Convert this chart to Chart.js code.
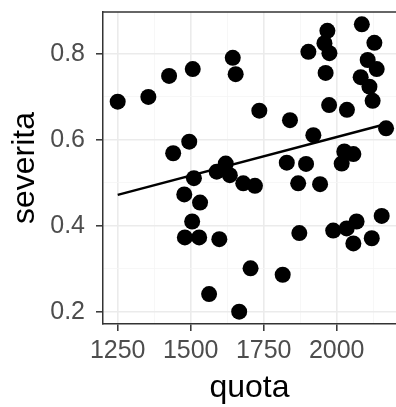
<!DOCTYPE html>
<html>
<head>
<meta charset="utf-8">
<script src="https://cdn.jsdelivr.net/npm/chart.js@4/dist/chart.umd.min.js"></script>
<style>
    html, body { margin: 0; padding: 0; background: #fff; }
    #wrap { width: 396px; height: 407px; }
</style>
</head>
<body>
<div id="wrap"><canvas id="chart"></canvas></div>
<script>
// values
const quota = [
    1250, 1355, 1426, 1507, 1644, 1654, 1735, 1840, 1903, 1968,
    1958, 1975, 1962, 1974, 2035, 2086, 2129, 2106, 2137, 2082,
    2112, 2123, 2169, 1920, 1495, 1440, 2026, 2057, 1829, 1895,
    2017, 1620, 1511, 1589, 1634, 1680, 1720, 1868, 1943, 1478,
    1532, 1505, 1480, 1529, 1598, 1872, 1988, 2034, 2068, 2057,
    2120, 2154, 1705, 1815, 1563, 1666,
];
const severita = [
    0.689, 0.700, 0.749, 0.765, 0.791, 0.753, 0.668, 0.646, 0.805, 0.854,
    0.825, 0.802, 0.756, 0.681, 0.670, 0.869, 0.826, 0.786, 0.765, 0.746,
    0.724, 0.691, 0.627, 0.611, 0.596, 0.569, 0.573, 0.567, 0.547, 0.544,
    0.545, 0.545, 0.511, 0.526, 0.518, 0.499, 0.493, 0.499, 0.497, 0.473,
    0.454, 0.410, 0.373, 0.373, 0.369, 0.383, 0.389, 0.394, 0.410, 0.359,
    0.371, 0.423, 0.301, 0.286, 0.241, 0.200,
];
// fitted line end points
const fitQuota = [1250, 2169];
const fitSeverita = [0.472, 0.637];

const xMajor = [1250, 1500, 1750, 2000];
const xMinor = [1375, 1625, 1875, 2125];
const yMajor = [0.2, 0.4, 0.6, 0.8];
const yMinor = [0.3, 0.5, 0.7];

const FONT = "'Liberation Sans', Arial, sans-serif";

function isMajor(list, v) {
    return list.some(m => Math.abs(m - v) < 1e-6);
}

function tickSetter(major, minor) {
    return scale => {
        scale.ticks = [...major, ...minor].sort((a, b) => a - b).map(v => ({ value: v }));
    };
}

// fixed axis size, no extra label padding pushed into the plot area
function fixSize(prop, size) {
    return s => {
        s[prop] = size;
        s.paddingTop = 0; s.paddingBottom = 0;
        s.paddingLeft = 0; s.paddingRight = 0;
    };
}

function gridOpts(major) {
    return {
        drawOnChartArea: true,
        drawTicks: true,
        tickLength: 7,
        tickWidth: 1.5,
        color: ctx => (ctx.tick && isMajor(major, ctx.tick.value)) ? '#ebebeb' : '#f5f5f5',
        lineWidth: ctx => (ctx.tick && isMajor(major, ctx.tick.value)) ? 1.6 : 0.8,
        tickColor: ctx => (ctx.tick && isMajor(major, ctx.tick.value)) ? '#333333' : 'rgba(0,0,0,0)',
    };
}

// ggplot-style panel border on the top edge
const topBorder = {
    id: 'topBorder',
    afterDraw(chart) {
        const { ctx, chartArea } = chart;
        ctx.save();
        ctx.strokeStyle = '#333333';
        ctx.lineWidth = 1.5;
        ctx.beginPath();
        ctx.moveTo(chartArea.left, chartArea.top);
        ctx.lineTo(chartArea.right, chartArea.top);
        ctx.stroke();
        ctx.restore();
    },
};

new Chart(document.getElementById('chart'), {
    data: {
        datasets: [
            {
                type: 'scatter',
                data: quota.map((x, i) => ({ x, y: severita[i] })),
                pointRadius: 8,
                pointHoverRadius: 8,
                backgroundColor: '#000000',
                borderWidth: 0,
                order: 2,
            },
            {
                type: 'line',
                data: fitQuota.map((x, i) => ({ x, y: fitSeverita[i] })),
                borderColor: '#000000',
                borderWidth: 2.5,
                pointRadius: 0,
                fill: false,
                order: 1,
            },
        ],
    },
    options: {
        responsive: true, maintainAspectRatio: false, animation: false,
        layout: { autoPadding: false, padding: { top: 12, right: 0, left: 0, bottom: 0 } },
        plugins: { legend: { display: false }, tooltip: { enabled: false } },
        events: [],
        scales: {
            x: {
                type: 'linear', min: 1199.7, max: 2203,
                afterBuildTicks: tickSetter(xMajor, xMinor),
                afterFit: fixSize('height', 83),
                grid: gridOpts(xMajor),
                border: { display: true, color: '#333333', width: 1.5 },
                ticks: {
                    autoSkip: false, maxRotation: 0, padding: 5,
                    color: '#4d4d4d', font: { family: FONT, size: 25 },
                    callback: v => isMajor(xMajor, v) ? String(v) : '',
                },
                title: {
                    display: true, text: 'quota', color: '#000000',
                    font: { family: FONT, size: 32 }, padding: { top: 0, bottom: 0 },
                },
            },
            y: {
                type: 'linear', min: 0.1714, max: 0.8978,
                afterBuildTicks: tickSetter(yMajor, yMinor),
                afterFit: fixSize('width', 103),
                grid: gridOpts(yMajor),
                border: { display: true, color: '#333333', width: 1.5 },
                ticks: {
                    autoSkip: false, padding: 11,
                    color: '#4d4d4d', font: { family: FONT, size: 25 },
                    callback: v => isMajor(yMajor, v) ? v.toFixed(1) : '',
                },
                title: {
                    display: true, text: 'severita', color: '#000000',
                    font: { family: FONT, size: 32 }, padding: { top: 6, bottom: 0 },
                },
            },
        },
    },
    plugins: [topBorder],
});
</script>
</body>
</html>
